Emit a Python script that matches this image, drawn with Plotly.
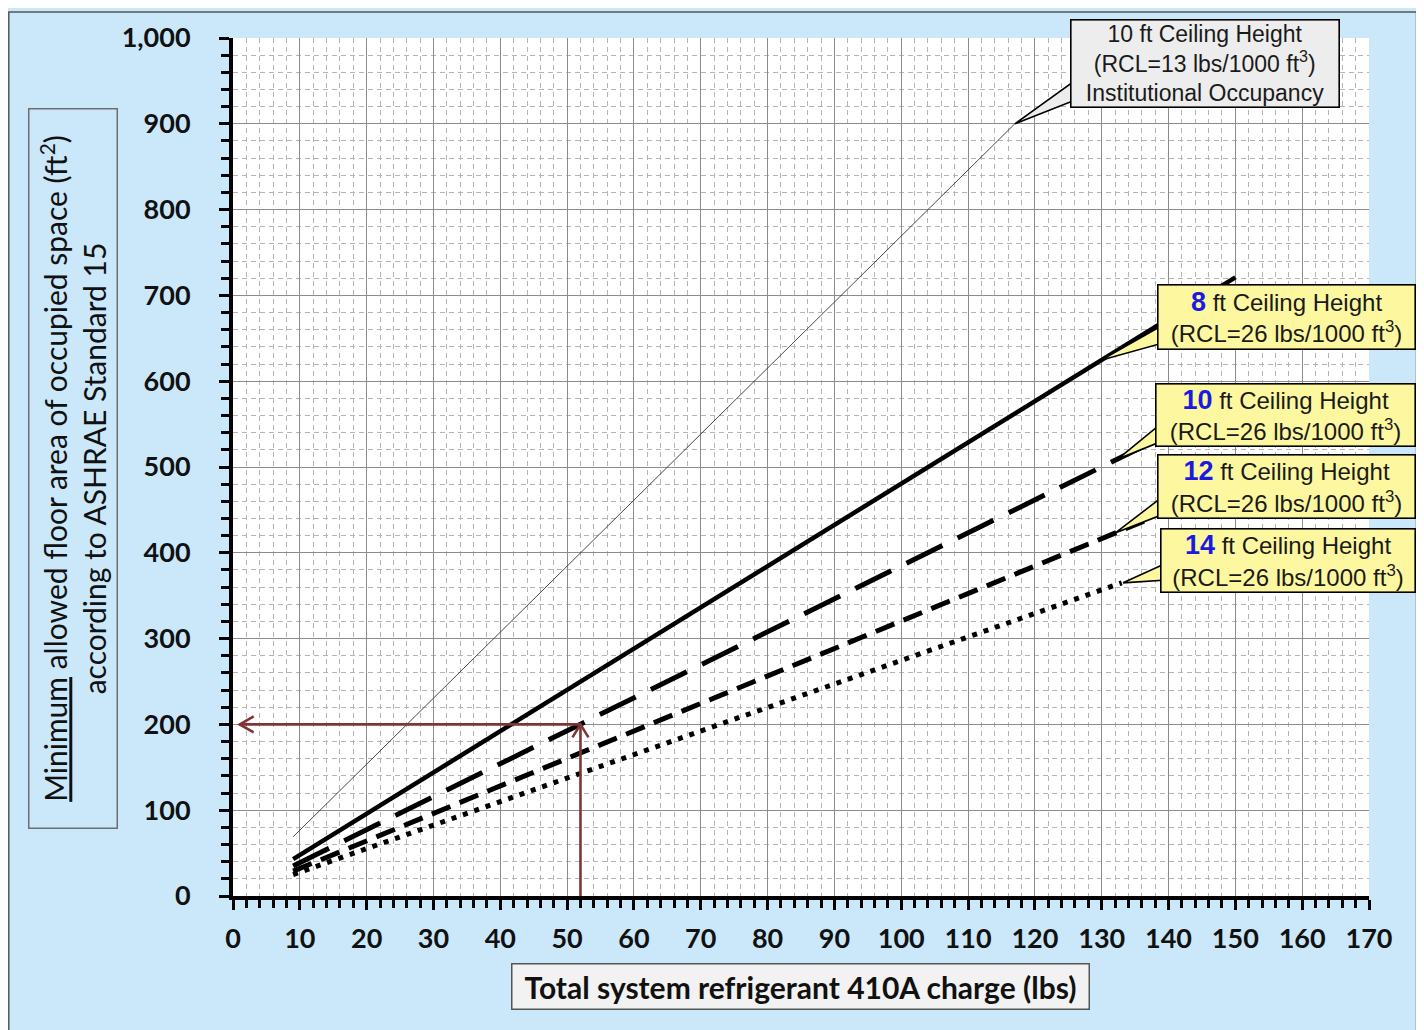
import numpy as np
import plotly.graph_objects as go

# ---------------- data ----------------
# Total system refrigerant 410A charge (lbs) vs minimum floor area (ft2)
rcl13_10ft_x = [9, 117]
rcl13_10ft_y = [69, 900]
rcl26_8ft_x = [9, 150]
rcl26_8ft_y = [43, 721]
rcl26_10ft_x = [9, 137]
rcl26_10ft_y = [35, 527]
rcl26_12ft_x = [9, 137]
rcl26_12ft_y = [29, 439]
rcl26_14ft_x = [9, 133]
rcl26_14ft_y = [25, 365]

example_charge = 52
example_area = 200

x_range = [0, 170]
y_range = [0, 1000]

# ---------------- layout geometry (screen pixels) ----------------
OFF = 8                      # default body margin of the page
L, T, W, H = 233, 35, 1136, 861
SCR_W, SCR_H = 1424, 1030
FIG_W, FIG_H = SCR_W - OFF, SCR_H - OFF


def dx(px):
    return (px - L) / W * (x_range[1] - x_range[0])


def dy(py):
    return (T + H - py) / H * (y_range[1] - y_range[0])


def pxp(px):
    return (px - L) / W


def pyp(py):
    return (T + H - py) / H


BG = "#CBE8FB"
YELLOW = "#FDF8A0"
GRAY = "#EDEDED"
BROWN = "#7F3535"
BLUE = "#1A1AE0"
TXT = "#1A1A1A"

fig = go.Figure()

series = [
    (rcl13_10ft_x, rcl13_10ft_y, dict(color="#333333", width=0.9)),
    (rcl26_8ft_x, rcl26_8ft_y, dict(color="black", width=4.5)),
    (rcl26_10ft_x, rcl26_10ft_y, dict(color="black", width=5, dash="40px,17px")),
    (rcl26_12ft_x, rcl26_12ft_y, dict(color="black", width=5, dash="20px,10px")),
    (rcl26_14ft_x, rcl26_14ft_y, dict(color="black", width=5, dash="5px,7px")),
]
for xs, ys, ln in series:
    fig.add_trace(go.Scatter(x=xs, y=ys, mode="lines", line=ln,
                             showlegend=False, hoverinfo="skip"))

shapes = []
annotations = []

# ---------------- callouts ----------------
callouts = [
    dict(box=(1070, 16, 1340, 105), fill=GRAY, tipx=117, xs=rcl13_10ft_x, ys=rcl13_10ft_y,
         base=(77, 97), size=23,
         text="10 ft Ceiling Height<br>(RCL=13 lbs/1000 ft<sup>3</sup>)<br>Institutional Occupancy"),
    dict(box=(1157, 282, 1416, 348), fill=YELLOW, tipx=130, xs=rcl26_8ft_x, ys=rcl26_8ft_y,
         base=(323, 341), num="8"),
    dict(box=(1155, 381, 1416, 445), fill=YELLOW, tipx=132.5, xs=rcl26_10ft_x, ys=rcl26_10ft_y,
         base=(422, 440), num="10"),
    dict(box=(1157, 452, 1416, 517), fill=YELLOW, tipx=132, xs=rcl26_12ft_x, ys=rcl26_12ft_y,
         base=(495, 513), num="12"),
    dict(box=(1160, 527, 1416, 592), fill=YELLOW, tipx=133.2, xs=rcl26_14ft_x, ys=rcl26_14ft_y,
         base=(562, 579), num="14"),
]
BW = 1.6
for c in callouts:
    x0, y0, x1, y1 = c["box"]
    tx = c["tipx"]
    ty = float(np.interp(tx, c["xs"], c["ys"]))
    bx = dx(x0 + 6)
    path = f"M {tx},{ty} L {bx},{dy(c['base'][0])} L {bx},{dy(c['base'][1])} Z"
    shapes.append(dict(type="path", xref="x", yref="y", path=path,
                       fillcolor=c["fill"], line=dict(color="black", width=BW), layer="above"))
    if "num" in c:
        text = (f"<span style='color:{BLUE};font-size:27px'><b>{c['num']}</b></span>"
                " ft Ceiling Height<br>(RCL=26 lbs/1000 ft<sup>3</sup>)")
    else:
        text = c["text"]
    annotations.append(dict(
        x=pxp(x0), y=pyp(y0), xref="paper", yref="paper", xanchor="left", yanchor="top",
        width=x1 - x0 - 2 * BW, height=y1 - y0 - 2 * BW, borderpad=0,
        bgcolor=c["fill"], bordercolor="black", borderwidth=BW,
        text=text, showarrow=False, align="center", valign="middle",
        font=dict(family="Liberation Sans, Arial", size=c.get("size", 24), color=TXT)))

# ---------------- example arrows ----------------
arrow_left_x = 1
shapes.append(dict(type="line", xref="x", yref="y", x0=example_charge, y0=0,
                   x1=example_charge, y1=example_area,
                   line=dict(color=BROWN, width=2.6), layer="above"))
shapes.append(dict(type="line", xref="x", yref="y", x0=example_charge, y0=example_area,
                   x1=arrow_left_x, y1=example_area,
                   line=dict(color=BROWN, width=2.6), layer="above"))
shapes.append(dict(type="path", xref="x", yref="y", xsizemode="pixel", ysizemode="pixel",
                   xanchor=example_charge, yanchor=example_area,
                   path="M -8,-13 L 0,0 L 8,-13", fillcolor="rgba(0,0,0,0)",
                   line=dict(color=BROWN, width=2.6), layer="above"))
shapes.append(dict(type="path", xref="x", yref="y", xsizemode="pixel", ysizemode="pixel",
                   xanchor=arrow_left_x, yanchor=example_area,
                   path="M 14,8 L 0,0 L 14,-8", fillcolor="rgba(0,0,0,0)",
                   line=dict(color=BROWN, width=2.6), layer="above"))

# ---------------- frame around figure ----------------
shapes.append(dict(type="rect", xref="paper", yref="paper",
                   x0=pxp(1417), x1=pxp(SCR_W + 20), y0=pyp(SCR_H + 20), y1=pyp(-20),
                   line=dict(width=0), fillcolor="white", layer="above"))
shapes.append(dict(type="rect", xref="paper", yref="paper",
                   x0=pxp(OFF + 0.8), x1=pxp(1416.5), y0=pyp(SCR_H + 5), y1=pyp(OFF + 0.8),
                   line=dict(color="#555555", width=1.5), fillcolor="rgba(0,0,0,0)", layer="above"))

# ---------------- axis titles (boxed) ----------------
annotations.append(dict(
    x=pxp(73), y=pyp(467.5), xref="paper", yref="paper", xanchor="center", yanchor="middle",
    textangle=-90, width=721 - 3, height=90 - 3, borderpad=0,
    bordercolor="#6E6E6E", borderwidth=1.5, bgcolor="rgba(0,0,0,0)",
    text="<u>Minimum</u> allowed floor area of occupied space (ft<sup>2</sup>)<br>according to ASHRAE Standard 15",
    showarrow=False, align="center",
    font=dict(family="Lato", size=30, color="#111111")))
annotations.append(dict(
    x=pxp(800.5), y=pyp(986.5), xref="paper", yref="paper", xanchor="center", yanchor="middle",
    width=579 - 3, height=47 - 3, borderpad=0,
    bordercolor="#555555", borderwidth=1.5, bgcolor="#F2F2F2",
    text="<b>Total system refrigerant 410A charge (lbs)</b>",
    showarrow=False, align="center",
    font=dict(family="Lato", size=30, color="#111111")))

axis_common = dict(
    showline=True, linecolor="black", linewidth=4, mirror=False,
    ticks="outside", ticklen=10, tickwidth=3, tickcolor="black",
    showgrid=True, gridcolor="#8C8C8C", gridwidth=1,
    zeroline=False,
    tickfont=dict(family="Lato", size=27, color="#111111", weight="bold"),
)

fig.update_layout(
    width=FIG_W, height=FIG_H,
    margin=dict(l=L - OFF, r=SCR_W - L - W, t=T - OFF, b=SCR_H - T - H),
    paper_bgcolor=BG, plot_bgcolor="white",
    showlegend=False,
    xaxis=dict(range=x_range, dtick=10, tick0=0, ticklabelstandoff=6,
               minor=dict(dtick=2, showgrid=True, gridcolor="#B5B5B5", griddash="5px,4px",
                          gridwidth=1, ticks="outside", ticklen=8, tickwidth=3, tickcolor="black"),
               **axis_common),
    yaxis=dict(range=y_range, dtick=100, tick0=0, tickformat=",", ticklabelstandoff=23,
               minor=dict(dtick=20, showgrid=True, gridcolor="#B5B5B5", griddash="5px,4px",
                          gridwidth=1, ticks="outside", ticklen=8, tickwidth=3, tickcolor="black"),
               **axis_common),
    shapes=shapes,
    annotations=annotations,
)

fig.write_html("out.html")
